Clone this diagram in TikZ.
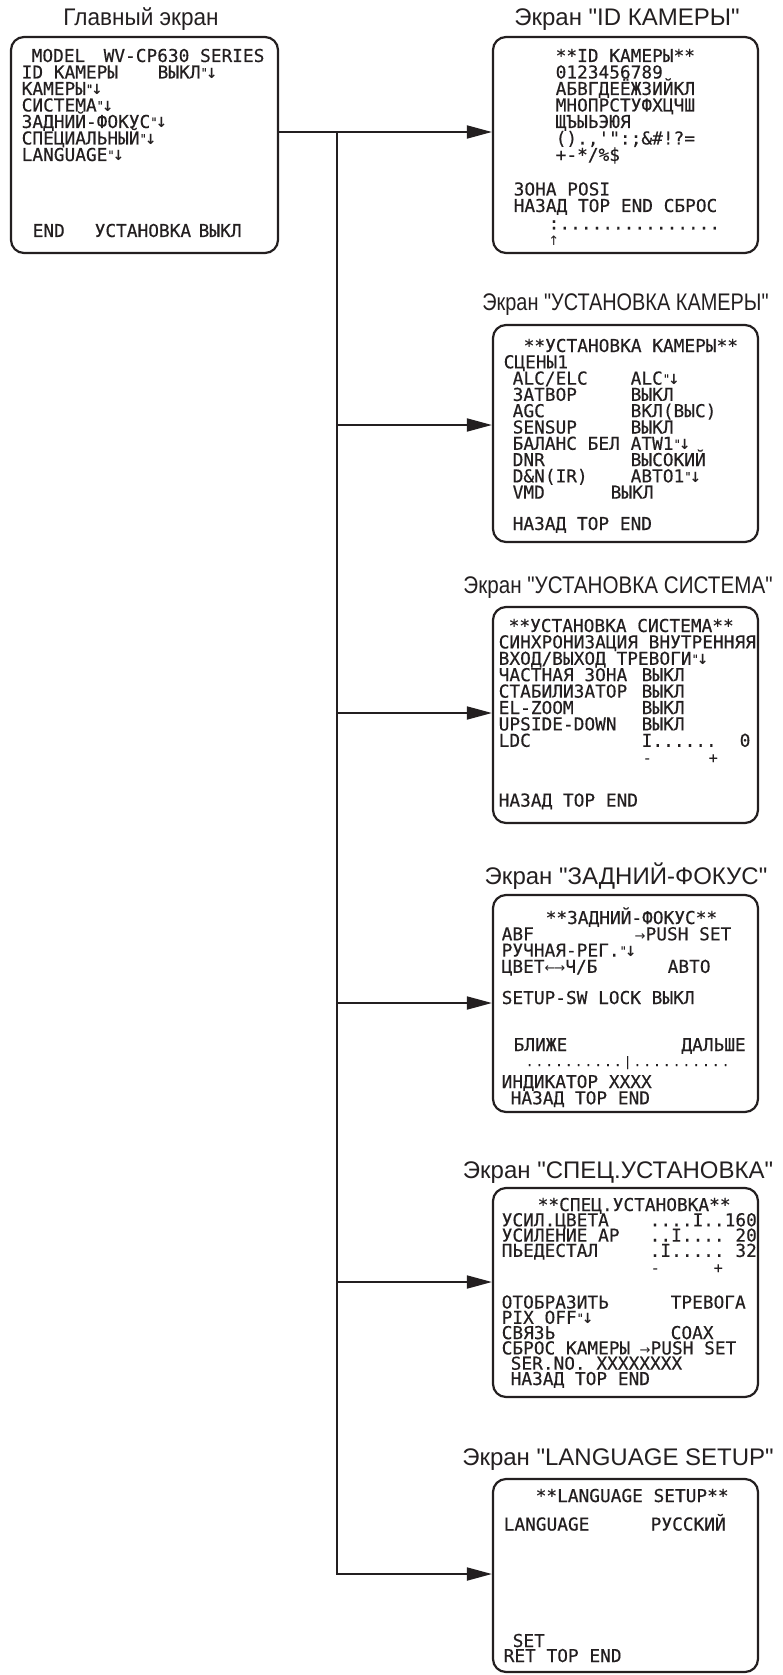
\documentclass[tikz,border=0pt]{standalone}
\usepackage{fontspec}
\newfontfamily\titlefont{Liberation Sans}
\newfontfamily\scrfont{DejaVu Sans Mono}[FakeBold=0.35]
\newfontfamily\symfont{DejaVu Sans}
\usetikzlibrary{arrows.meta}
\definecolor{ink}{HTML}{231F20}

% screen rows: fixed baseline distance, items placed at x offsets
\newcommand\scrrows[2]{\vtop{\baselineskip=#1pt\lineskiplimit=-\maxdimen\lineskip=0pt\relax #2}}
\newcommand\scrrow[1]{\hbox{#1}}
\newcommand\scrat[2]{\rlap{\hspace*{#1pt}#2}}
% submenu mark, small arrows, slider marks
\newcommand\subm{{\fontsize{12}{12}\selectfont\raisebox{1.5pt}{"}}\kern-2pt{\symfont\bfseries\fontsize{14}{14}\selectfont ↓}}
\newcommand\sarr[1]{{\symfont\fontsize{13}{13}\selectfont #1}}
\newcommand\sdot{\makebox[9.8pt]{.}}
\newcommand\pmmark[1]{{\fontsize{15}{15}\selectfont #1}}

\begin{document}
\begin{tikzpicture}[x=1pt,y=-1pt,
  % Node styles
  screen/.style={
    draw=ink,
    line width=2.2pt,
    rounded corners=13pt,
    inner sep=0pt,
    minimum width=265pt,
  },
  scrtext/.style={
    font=\scrfont\fontsize{17.8}{16}\selectfont,
    text=ink,
    anchor=base west,
    inner sep=0pt,
  },
  title/.style={
    font=\titlefont\fontsize{24}{26}\selectfont,
    text=ink,
    anchor=base,
    inner sep=0pt,
  },
  % Edge styles
  flow/.style={
    draw=ink,
    line width=1.8pt,
  },
  flow arrow/.style={
    flow,
    -{Triangle[length=25pt,width=13pt]},
  },
]
  \useasboundingbox (0,0) rectangle (783,1675);

  % Screens
  \node[screen, minimum width=267pt, minimum height=216pt] (main) at (144.5,145) {};
  \node[screen, minimum height=216pt] (id) at (625.5,145) {};
  \node[screen, minimum height=217pt] (cam) at (625.5,433.5) {};
  \node[screen, minimum height=216pt] (sys) at (625.5,715) {};
  \node[screen, minimum height=217pt] (focus) at (625.5,1003.5) {};
  \node[screen, minimum height=209pt] (spec) at (625.5,1292.5) {};
  \node[screen, minimum height=193pt] (lang) at (625.5,1575.5) {};

  % Titles
  \node[title] (main-title) at (141,26) {\scalebox{0.94}[1]{Главный экран}};
  \node[title] (id-title) at (627,26) {Экран "ID КАМЕРЫ"};
  \node[title] (cam-title) at (625.5,310) {\scalebox{0.83}[1]{Экран "УСТАНОВКА КАМЕРЫ"}};
  \node[title] (sys-title) at (618,593) {\scalebox{0.86}[1]{Экран "УСТАНОВКА СИСТЕМА"}};
  \node[title] (focus-title) at (626,884) {Экран "ЗАДНИЙ-ФОКУС"};
  \node[title] (spec-title) at (618,1178) {Экран "СПЕЦ.УСТАНОВКА"};
  \node[title] (lang-title) at (618,1465) {Экран "LANGUAGE SETUP"};

  % Main screen
  \node[scrtext] (main-txt) at (12,62) {\scrrows{16.5}{%
    \scrrow{\scrat{19}{MODEL}\scrat{91}{WV-CP630 SERIES}}
    \scrrow{\scrat{9}{ID КАМЕРЫ}\scrat{145}{ВЫКЛ\subm}}
    \scrrow{\scrat{9}{КАМЕРЫ\subm}}
    \scrrow{\scrat{9}{СИСТЕМА\subm}}
    \scrrow{\scrat{9}{ЗАДНИЙ-ФОКУС\subm}}
    \scrrow{\scrat{9}{СПЕЦИАЛЬНЫЙ\subm}}
    \scrrow{\scrat{9}{LANGUAGE\subm}}
    \vskip59.5pt
    \scrrow{\scrat{20}{END}\scrat{82}{УСТАНОВКА}\scrat{186}{ВЫКЛ}}}};

  % ID screen
  \node[scrtext] (id-txt) at (493,62) {\scrrows{16.5}{%
    \scrrow{\scrat{62}{**ID КАМЕРЫ**}}
    \scrrow{\scrat{62}{0123456789}}
    \scrrow{\scrat{62}{АБВГДЕЁЖЗИЙКЛ}}
    \scrrow{\scrat{62}{МНОПРСТУФХЦЧШ}}
    \scrrow{\scrat{62}{ЩЪЫЬЭЮЯ}}
    \scrrow{\scrat{62}{().,'":;\&\#!?=}}
    \scrrow{\scrat{62}{+-*/\%\$}}
    \vskip18pt
    \scrrow{\scrat{20}{ЗОНА POSI}}
    \scrrow{\scrat{20}{НАЗАД TOP END СБРОС}}
    \vskip1pt
    \scrrow{\scrat{55}{:...............}}
    \vskip0pt
    \scrrow{\scrat{60}{\makebox[0pt]{\symfont\fontsize{13}{13}\selectfont ↑}}}}};

  % Camera setup screen
  \node[scrtext] (cam-txt) at (493,352) {\scrrows{16.3}{%
    \scrrow{\scrat{30}{**УСТАНОВКА КАМЕРЫ**}}
    \scrrow{\scrat{10}{СЦЕНЫ1}}
    \scrrow{\scrat{19}{ALC/ELC}\scrat{137}{ALC\subm}}
    \scrrow{\scrat{19}{ЗАТВОР}\scrat{137}{ВЫКЛ}}
    \scrrow{\scrat{19}{AGC}\scrat{137}{ВКЛ(ВЫС)}}
    \scrrow{\scrat{19}{SENSUP}\scrat{137}{ВЫКЛ}}
    \scrrow{\scrat{19}{БАЛАНС БЕЛ}\scrat{137}{ATW1\subm}}
    \scrrow{\scrat{19}{DNR}\scrat{137}{ВЫСОКИЙ}}
    \scrrow{\scrat{19}{D\&N(IR)}\scrat{137}{АВТО1\subm}}
    \scrrow{\scrat{19}{VMD}\scrat{117}{ВЫКЛ}}
    \vskip15pt
    \scrrow{\scrat{19}{НАЗАД TOP END}}}};

  % System setup screen
  \node[scrtext] (sys-txt) at (493,632) {\scrrows{16.4}{%
    \scrrow{\scrat{15}{**УСТАНОВКА СИСТЕМА**}}
    \scrrow{\scrat{5}{СИНХРОНИЗАЦИЯ ВНУТРЕННЯЯ}}
    \scrrow{\scrat{5}{ВХОД/ВЫХОД ТРЕВОГИ\subm}}
    \scrrow{\scrat{5}{ЧАСТНАЯ ЗОНА}\scrat{148}{ВЫКЛ}}
    \scrrow{\scrat{5}{СТАБИЛИЗАТОР}\scrat{148}{ВЫКЛ}}
    \scrrow{\scrat{5}{EL-ZOOM}\scrat{148}{ВЫКЛ}}
    \scrrow{\scrat{5}{UPSIDE-DOWN}\scrat{148}{ВЫКЛ}}
    \scrrow{\scrat{5}{LDC}\scrat{148}{I......}\scrat{246}{0}}
    \vskip-0.2pt
    \scrrow{\scrat{149}{\pmmark{-}}\scrat{215}{\pmmark{+}}}
    \vskip27.2pt
    \scrrow{\scrat{5}{НАЗАД TOP END}}}};

  % Back focus screen
  \node[scrtext] (focus-txt) at (493,924) {\scrrows{16.3}{%
    \scrrow{\scrat{52}{**ЗАДНИЙ-ФОКУС**}}
    \scrrow{\scrat{8}{ABF}\scrat{141}{\sarr{→}PUSH SET}}
    \scrrow{\scrat{8}{РУЧНАЯ-РЕГ.\subm}}
    \scrrow{\scrat{8}{ЦВЕТ\sarr{←\kern-1pt→}Ч/Б}\scrat{174}{АВТО}}
    \vskip14.8pt
    \scrrow{\scrat{8}{SETUP-SW LOCK ВЫКЛ}}
    \vskip30.7pt
    \scrrow{\scrat{20}{БЛИЖЕ}\scrat{252}{\llap{ДАЛЬШЕ}}}
    \vskip-1.3pt
    \scrrow{\scrat{31}{\fontsize{13}{13}\selectfont\sdot\sdot\sdot\sdot\sdot\sdot\sdot\sdot\sdot\sdot\makebox[9.8pt]{|}\sdot\sdot\sdot\sdot\sdot\sdot\sdot\sdot\sdot\sdot}}
    \vskip5.7pt
    \scrrow{\scrat{8}{ИНДИКАТОР XXXX}}
    \scrrow{\scrat{17}{НАЗАД TOP END}}}};

  % Special setup screen
  \node[scrtext] (spec-txt) at (493,1211) {\scrrows{15.3}{%
    \scrrow{\scrat{44}{**СПЕЦ.УСТАНОВКА**}}
    \scrrow{\scrat{8}{УСИЛ.ЦВЕТА}\scrat{156}{....I..160}}
    \scrrow{\scrat{8}{УСИЛЕНИЕ AP}\scrat{156}{..I....~20}}
    \scrrow{\scrat{8}{ПЬЕДЕСТАЛ}\scrat{156}{.I.....~32}}
    \vskip0.8pt
    \scrrow{\scrat{157}{\pmmark{-}}\scrat{220}{\pmmark{+}}}
    \vskip20.2pt
    \scrrow{\scrat{8}{ОТОБРАЗИТЬ}\scrat{177}{ТРЕВОГА}}
    \scrrow{\scrat{8}{PIX OFF\subm}}
    \scrrow{\scrat{8}{СВЯЗЬ}\scrat{177}{COAX}}
    \scrrow{\scrat{8}{СБРОС КАМЕРЫ}\scrat{146}{\sarr{→}PUSH SET}}
    \scrrow{\scrat{17}{SER.NO. XXXXXXXX}}
    \scrrow{\scrat{17}{НАЗАД TOP END}}}};

  % Language screen
  \node[scrtext] (lang-txt) at (493,1502) {\scrrows{16.5}{%
    \scrrow{\scrat{42}{**LANGUAGE SETUP**}}
    \vskip12pt
    \scrrow{\scrat{10}{LANGUAGE}\scrat{157}{РУССКИЙ}}
    \vskip100pt
    \scrrow{\scrat{19}{SET}}
    \vskip-1.5pt
    \scrrow{\scrat{10}{RET TOP END}}}};

  % Junctions on the trunk
  \coordinate (hub) at (337,132);
  \coordinate (j-2) at (337,425);
  \coordinate (j-3) at (337,713);
  \coordinate (j-4) at (337,1003);
  \coordinate (j-5) at (337,1282);
  \coordinate (j-6) at (337,1574);

  % Connectors
  \draw[flow arrow] (main.east |- hub) -- (id.west |- hub);
  \draw[flow arrow] (hub) |- (lang.west |- j-6);
  \draw[flow arrow] (j-2) -- (cam.west |- j-2);
  \draw[flow arrow] (j-3) -- (sys.west |- j-3);
  \draw[flow arrow] (j-4) -- (focus.west |- j-4);
  \draw[flow arrow] (j-5) -- (spec.west |- j-5);

\end{tikzpicture}
\end{document}
